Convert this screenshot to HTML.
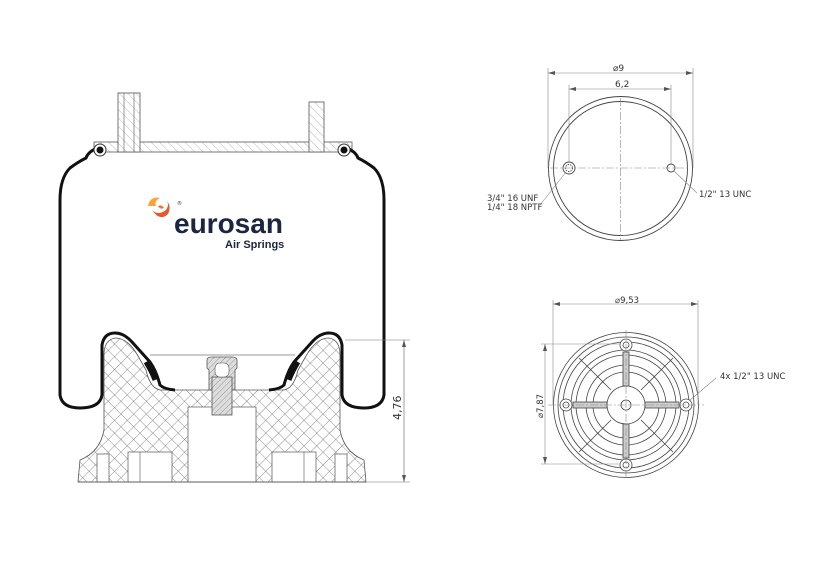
<!DOCTYPE html>
<html><head><meta charset="utf-8"><style>
html,body{margin:0;padding:0;background:#fff;width:839px;height:577px;overflow:hidden}
svg{display:block}
text{font-family:"DejaVu Sans","Liberation Sans",sans-serif;fill:#333}
</style></head><body>
<svg width="839" height="577" viewBox="0 0 839 577" xmlns="http://www.w3.org/2000/svg">
<defs>
<pattern id="xh" width="9" height="9" patternUnits="userSpaceOnUse" patternTransform="rotate(45)">
<rect width="9" height="9" fill="#fff"/>
<path d="M0 0H9M0 0V9" stroke="#666" stroke-width="0.7"/>
</pattern>
<pattern id="dh" width="4" height="4" patternUnits="userSpaceOnUse" patternTransform="rotate(45)">
<rect width="4" height="4" fill="#ddd"/><path d="M0 0V4" stroke="#666" stroke-width="0.6"/>
</pattern>
<pattern id="lh" width="6" height="6" patternUnits="userSpaceOnUse" patternTransform="rotate(-45)">
<rect width="6" height="6" fill="#fff"/><path d="M0 0V6" stroke="#888" stroke-width="0.6"/>
</pattern>
<g id="half">
<path d="M222 390 L160 390 Q150 388 146 370 L138 356 Q128 338 115 338 Q104 340 104 355 L104 430 Q100 452 80 460 L78 482 L222 482 Z" fill="url(#xh)" stroke="#555" stroke-width="0.8"/>
<rect x="128" y="452" width="44" height="30" fill="#fff" stroke="#555" stroke-width="0.7"/>
<line x1="140" y1="452" x2="140" y2="482" stroke="#555" stroke-width="0.6"/>
<rect x="97" y="454" width="12" height="28" fill="#fff" stroke="#555" stroke-width="0.7"/>
<path d="M97 148 Q88 152 86 158 Q78 162 70 168 Q60 178 60 200 L60 395 Q62 408 80 408 Q100 408 102 395 L102 345 Q104 333 115 333 Q124 333 132 342 L150 362 Q156 370 160 385 Q164 389 175 390" fill="none" stroke="#111" stroke-width="3"/>
<path d="M146 362 Q152 372 155 380" stroke="#111" stroke-width="5" fill="none"/>
<circle cx="100" cy="150" r="6" fill="#fff" stroke="#333" stroke-width="1"/>
<circle cx="100" cy="150" r="3.5" fill="#111"/>
</g>
</defs>

<rect x="94" y="142" width="258" height="10" fill="url(#lh)" stroke="#555" stroke-width="0.8"/>
<rect x="118" y="93" width="22" height="59" fill="url(#lh)" stroke="#555" stroke-width="0.8"/>
<line x1="124" y1="93" x2="124" y2="152" stroke="#555" stroke-width="0.6"/>
<line x1="134" y1="93" x2="134" y2="152" stroke="#555" stroke-width="0.6"/>
<rect x="309" y="102" width="15" height="50" fill="url(#lh)" stroke="#555" stroke-width="0.8"/>

<use href="#half"/>
<use href="#half" transform="translate(444,0) scale(-1,1)"/>
<rect x="188" y="407" width="68" height="75" fill="#fff" stroke="#555" stroke-width="0.7"/>
<line x1="78" y1="482" x2="366" y2="482" stroke="#555" stroke-width="0.8"/>
<line x1="150" y1="355" x2="295" y2="355" stroke="#777" stroke-width="0.7"/>

<path d="M207 360 Q207 357 212 357 L232 357 Q237 357 237 360 L237 368 L235 370 L235 390 L209 390 L209 370 L207 368 Z" fill="url(#dh)" stroke="#555" stroke-width="0.8"/>
<rect x="212" y="377" width="20" height="38" fill="url(#dh)" stroke="#555" stroke-width="0.8"/>
<rect x="215" y="363" width="14" height="14" rx="5" fill="#fff" stroke="#555" stroke-width="0.6"/>

<line x1="345" y1="340" x2="410" y2="340" stroke="#777" stroke-width="0.6"/>
<line x1="366" y1="482" x2="410" y2="482" stroke="#777" stroke-width="0.6"/>
<line x1="404" y1="340" x2="404" y2="482" stroke="#777" stroke-width="0.7"/>
<path d="M404 340 l-2 7 h4z M404 482 l-2 -7 h4z" fill="#555"/>
<text x="0" y="0" font-size="11" transform="translate(401,420) rotate(-90)">4,76</text>

<g transform="translate(146,196)">
<path d="M2 10 Q4 0 14 2 Q8 5 10 10 Z" fill="#f7a43a"/>
<path d="M6 14 Q12 20 20 14 Q24 8 20 4 Q26 10 22 18 Q14 26 6 14Z" fill="#e6592c"/>
<path d="M12 10 Q16 8 18 12 Q14 14 12 10Z" fill="#f07a2c"/>
</g>
<text x="177" y="205" font-size="5" fill="#333">®</text>
<text x="174" y="233" font-size="28" font-weight="bold" style="fill:#1c2541;font-family:'Liberation Sans',sans-serif">eurosan</text>
<text x="225" y="248" font-size="11" font-weight="bold" style="fill:#1c2541;font-family:'Liberation Sans',sans-serif">Air Springs</text>

<g stroke="#444" fill="none" stroke-width="0.9">
<circle cx="620.5" cy="168.5" r="72"/>
<circle cx="620.5" cy="168.5" r="67"/>
<circle cx="569" cy="168" r="6" fill="#fff"/>
<circle cx="569" cy="168" r="3.5" stroke-dasharray="1.5 1"/>
<circle cx="671" cy="168" r="4"/>
</g>
<g stroke="#888" stroke-width="0.6" fill="none">
<line x1="550" y1="168" x2="690" y2="168" stroke-dasharray="8 2 2 2"/>
<line x1="620.5" y1="98" x2="620.5" y2="240" stroke-dasharray="8 2 2 2"/>
<line x1="548" y1="68" x2="548" y2="168"/><line x1="693" y1="68" x2="693" y2="168"/>
<line x1="548" y1="73" x2="693" y2="73"/>
<line x1="569" y1="85" x2="569" y2="162"/><line x1="671" y1="85" x2="671" y2="164"/>
<line x1="569" y1="89" x2="671" y2="89"/>
<line x1="566" y1="172" x2="540" y2="205"/>
<line x1="674" y1="171" x2="697" y2="193"/>
</g>
<path d="M548 73 l7 -2 v4z M693 73 l-7 -2 v4z M569 89 l7 -2 v4z M671 89 l-7 -2 v4z" fill="#555"/>
<text x="613" y="71" font-size="9">⌀9</text>
<text x="615" y="87" font-size="9">6,2</text>
<text x="487" y="201" font-size="8.5">3/4" 16 UNF</text>
<text x="487" y="210" font-size="8.5">1/4" 18 NPTF</text>
<text x="699" y="197" font-size="8.5">1/2" 13 UNC</text>

<g stroke="#444" fill="none" stroke-width="0.8">
<circle cx="626" cy="405" r="72.5"/>
<circle cx="626" cy="405" r="68"/>
<circle cx="626" cy="405" r="63"/>
<circle cx="626" cy="405" r="55"/>
<circle cx="626" cy="405" r="50"/>
<circle cx="626" cy="405" r="40"/>
<circle cx="626" cy="405" r="33"/>
<circle cx="626" cy="405" r="19" fill="#fff"/>
<circle cx="626" cy="405" r="5"/>
<line x1="641" y1="390" x2="673" y2="358"/><line x1="611" y1="390" x2="579" y2="358"/>
<line x1="641" y1="420" x2="673" y2="452"/><line x1="611" y1="420" x2="579" y2="452"/>
<rect x="623" y="352" width="6" height="34" fill="#ccc"/>
<rect x="623" y="424" width="6" height="34" fill="#ccc"/>
<rect x="573" y="402" width="34" height="6" fill="#ccc"/>
<rect x="645" y="402" width="34" height="6" fill="#ccc"/>
<circle cx="626" cy="345" r="6" fill="#fff"/><circle cx="626" cy="345" r="3"/>
<circle cx="626" cy="465" r="6" fill="#fff"/><circle cx="626" cy="465" r="3"/>
<circle cx="566" cy="405" r="6" fill="#fff"/><circle cx="566" cy="405" r="3"/>
<circle cx="686" cy="405" r="6" fill="#fff"/><circle cx="686" cy="405" r="3"/>
</g>
<g stroke="#888" stroke-width="0.6" fill="none">
<line x1="548" y1="405" x2="704" y2="405" stroke-dasharray="8 2 2 2"/>
<line x1="626" y1="330" x2="626" y2="480" stroke-dasharray="8 2 2 2"/>
<line x1="553" y1="300" x2="553" y2="405"/><line x1="698" y1="300" x2="698" y2="405"/>
<line x1="553" y1="304" x2="698" y2="304"/>
<line x1="541" y1="344" x2="620" y2="344"/><line x1="541" y1="464" x2="620" y2="464"/>
<line x1="545" y1="344" x2="545" y2="464"/>
<line x1="689" y1="401" x2="716" y2="378"/>
</g>
<path d="M553 304 l7 -2 v4z M698 304 l-7 -2 v4z M545 344 l-2 7 h4z M545 464 l-2 -7 h4z" fill="#555"/>
<text x="615" y="303" font-size="8.5">⌀9,53</text>
<text font-size="8.5" transform="translate(543,418) rotate(-90)">⌀7,87</text>
<text x="720" y="379" font-size="8.5">4x 1/2" 13 UNC</text>
</svg>
</body></html>
